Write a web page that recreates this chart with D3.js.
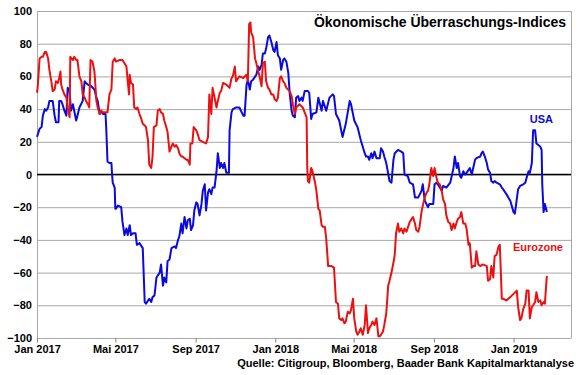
<!DOCTYPE html>
<html><head><meta charset="utf-8">
<script src="https://cdn.jsdelivr.net/npm/d3@7/dist/d3.min.js"></script>
<style>
html,body{margin:0;padding:0;background:#fff;}
text{font-family:"Liberation Sans",Arial,sans-serif;font-weight:bold;}
</style></head>
<body>
<svg id="chart" width="580" height="375"></svg>
<script>
const title = "Ökonomische Überraschungs-Indices";
const source = "Quelle: Citigroup, Bloomberg, Baader Bank Kapitalmarktanalyse";
const seriesNames = ["USA", "Eurozone"];
const yTicks = [-100, -80, -60, -40, -20, 0, 20, 40, 60, 80, 100];
const xTickDates = ["2017-01-01", "2017-05-01", "2017-09-01", "2018-01-01", "2018-05-01", "2018-09-01", "2019-01-01"];
const xTickLabels = ["Jan 2017", "Mai 2017", "Sep 2017", "Jan 2018", "Mai 2018", "Sep 2018", "Jan 2019"];
const xDomain = ["2017-01-01", "2019-03-30"];

const usaDates = ["2017-01-01","2017-01-05","2017-01-08","2017-01-10","2017-01-13","2017-01-15","2017-01-18","2017-01-20","2017-01-25","2017-01-28","2017-01-30","2017-02-03","2017-02-04","2017-02-07","2017-02-09","2017-02-12","2017-02-15","2017-02-17","2017-02-20","2017-02-22","2017-02-25","2017-02-27","2017-03-02","2017-03-04","2017-03-07","2017-03-12","2017-03-15","2017-03-17","2017-03-20","2017-03-25","2017-03-30","2017-04-02","2017-04-04","2017-04-07","2017-04-09","2017-04-12","2017-04-16","2017-04-17","2017-04-19","2017-04-22","2017-04-25","2017-04-26","2017-04-27","2017-04-30","2017-05-01","2017-05-02","2017-05-05","2017-05-10","2017-05-12","2017-05-15","2017-05-18","2017-05-20","2017-05-23","2017-05-25","2017-05-28","2017-06-01","2017-06-03","2017-06-07","2017-06-12","2017-06-15","2017-06-17","2017-06-22","2017-06-25","2017-06-27","2017-06-30","2017-07-03","2017-07-08","2017-07-10","2017-07-13","2017-07-15","2017-07-18","2017-07-20","2017-07-23","2017-07-26","2017-07-31","2017-08-02","2017-08-05","2017-08-07","2017-08-10","2017-08-12","2017-08-15","2017-08-18","2017-08-20","2017-08-23","2017-08-25","2017-08-28","2017-08-30","2017-09-02","2017-09-04","2017-09-07","2017-09-10","2017-09-12","2017-09-15","2017-09-17","2017-09-20","2017-09-22","2017-09-25","2017-09-27","2017-09-30","2017-10-03","2017-10-05","2017-10-08","2017-10-10","2017-10-13","2017-10-15","2017-10-18","2017-10-22","2017-10-23","2017-10-26","2017-10-28","2017-11-02","2017-11-07","2017-11-13","2017-11-15","2017-11-18","2017-11-20","2017-11-23","2017-11-25","2017-11-28","2017-12-03","2017-12-06","2017-12-08","2017-12-11","2017-12-13","2017-12-16","2017-12-18","2017-12-21","2017-12-23","2017-12-26","2017-12-29","2017-12-31","2018-01-03","2018-01-05","2018-01-08","2018-01-10","2018-01-13","2018-01-15","2018-01-18","2018-01-21","2018-01-23","2018-01-26","2018-01-28","2018-01-31","2018-02-02","2018-02-05","2018-02-07","2018-02-10","2018-02-12","2018-02-15","2018-02-20","2018-02-22","2018-02-25","2018-02-27","2018-03-05","2018-03-08","2018-03-13","2018-03-15","2018-03-20","2018-03-25","2018-03-30","2018-04-01","2018-04-04","2018-04-09","2018-04-14","2018-04-19","2018-04-25","2018-04-27","2018-05-02","2018-05-07","2018-05-12","2018-05-18","2018-05-20","2018-05-23","2018-05-25","2018-05-28","2018-05-30","2018-06-02","2018-06-05","2018-06-10","2018-06-12","2018-06-15","2018-06-17","2018-06-20","2018-06-25","2018-06-28","2018-07-01","2018-07-03","2018-07-08","2018-07-13","2018-07-16","2018-07-18","2018-07-23","2018-07-26","2018-07-31","2018-08-03","2018-08-08","2018-08-13","2018-08-15","2018-08-18","2018-08-23","2018-08-25","2018-08-31","2018-09-02","2018-09-05","2018-09-07","2018-09-13","2018-09-15","2018-09-20","2018-09-26","2018-10-01","2018-10-03","2018-10-06","2018-10-08","2018-10-11","2018-10-13","2018-10-16","2018-10-19","2018-10-21","2018-10-26","2018-10-29","2018-11-03","2018-11-05","2018-11-11","2018-11-13","2018-11-15","2018-11-18","2018-11-21","2018-11-23","2018-11-26","2018-11-28","2018-12-01","2018-12-03","2018-12-06","2018-12-11","2018-12-14","2018-12-16","2018-12-21","2018-12-27","2019-01-01","2019-01-03","2019-01-05","2019-01-08","2019-01-11","2019-01-16","2019-01-19","2019-01-21","2019-01-24","2019-01-26","2019-01-29","2019-01-31","2019-02-03","2019-02-05","2019-02-08","2019-02-11","2019-02-13","2019-02-14","2019-02-16","2019-02-18","2019-02-21"];
const usaValues = [23,28,29,36,40,39,41,45,45,36,32,32,45,45,43,39,36,53,51,39,43,39,33,36,41,45,57,56,55,54,52,47,45,37,39,37,37,29,8,7,7,0,-5,-8,-21,-21,-19,-20,-29,-37,-33,-37,-31,-37,-36,-36,-43,-42,-45,-78,-79,-76,-78,-75,-74,-63,-60,-55,-68,-63,-66,-53,-52,-45,-44,-45,-40,-38,-30,-36,-26,-33,-28,-27,-34,-31,-22,-17,-18,-25,-18,-10,-6,-22,-11,-9,-12,-8,-8,2,13,4,7,4,7,1,1,27,38,40,41,41,36,36,55,58,52,57,58,61,66,64,67,74,74,77,84,85,81,76,75,81,73,71,64,70,71,69,62,50,39,36,35,47,48,45,47,45,51,51,50,34,37,38,47,39,45,39,47,49,48,37,33,23,31,45,43,33,29,21,13,11,11,9,13,10,14,10,10,16,14,11,7,-4,-5,9,13,15,14,13,0,-1,-5,-6,-14,-14,-10,-6,-16,-20,-18,-18,-6,-5,-6,-10,-7,-8,-5,4,11,4,7,-1,-2,2,0,1,4,0,9,10,11,13,14,11,7,3,1,-4,-5,-4,-5,-6,-8,-9,-12,-16,-23,-24,-18,-9,-7,-6,-5,-2,2,1,7,27,27,19,18,17,15,-6,-23,-18,-23];

const euDates = ["2017-01-01","2017-01-02","2017-01-05","2017-01-08","2017-01-10","2017-01-13","2017-01-15","2017-01-18","2017-01-20","2017-01-23","2017-01-25","2017-01-28","2017-01-30","2017-02-02","2017-02-04","2017-02-06","2017-02-07","2017-02-09","2017-02-12","2017-02-15","2017-02-17","2017-02-20","2017-02-21","2017-02-25","2017-02-27","2017-03-02","2017-03-04","2017-03-07","2017-03-10","2017-03-12","2017-03-15","2017-03-17","2017-03-20","2017-03-22","2017-03-24","2017-03-27","2017-03-30","2017-04-02","2017-04-04","2017-04-07","2017-04-09","2017-04-12","2017-04-17","2017-04-19","2017-04-22","2017-04-25","2017-04-27","2017-04-30","2017-05-02","2017-05-07","2017-05-12","2017-05-15","2017-05-18","2017-05-20","2017-05-22","2017-05-23","2017-05-25","2017-05-28","2017-05-30","2017-06-02","2017-06-04","2017-06-07","2017-06-09","2017-06-12","2017-06-15","2017-06-17","2017-06-20","2017-06-22","2017-06-25","2017-06-27","2017-06-29","2017-07-03","2017-07-05","2017-07-08","2017-07-10","2017-07-13","2017-07-15","2017-07-18","2017-07-20","2017-07-23","2017-07-26","2017-07-28","2017-07-31","2017-08-02","2017-08-05","2017-08-07","2017-08-10","2017-08-12","2017-08-15","2017-08-18","2017-08-20","2017-08-23","2017-08-24","2017-08-27","2017-08-29","2017-09-02","2017-09-04","2017-09-07","2017-09-12","2017-09-17","2017-09-20","2017-09-22","2017-09-25","2017-09-27","2017-09-30","2017-10-03","2017-10-05","2017-10-08","2017-10-10","2017-10-13","2017-10-18","2017-10-23","2017-10-26","2017-10-28","2017-10-31","2017-11-02","2017-11-07","2017-11-13","2017-11-18","2017-11-20","2017-11-22","2017-11-24","2017-11-25","2017-11-28","2017-12-01","2017-12-03","2017-12-06","2017-12-08","2017-12-11","2017-12-13","2017-12-16","2017-12-18","2017-12-21","2017-12-23","2017-12-26","2017-12-29","2017-12-31","2018-01-03","2018-01-05","2018-01-08","2018-01-10","2018-01-13","2018-01-15","2018-01-18","2018-01-23","2018-01-26","2018-01-28","2018-01-31","2018-02-02","2018-02-07","2018-02-12","2018-02-15","2018-02-18","2018-02-19","2018-02-20","2018-02-22","2018-02-25","2018-02-27","2018-03-03","2018-03-05","2018-03-08","2018-03-10","2018-03-13","2018-03-15","2018-03-18","2018-03-20","2018-03-23","2018-03-28","2018-04-01","2018-04-04","2018-04-07","2018-04-09","2018-04-12","2018-04-14","2018-04-17","2018-04-19","2018-04-22","2018-04-25","2018-04-27","2018-04-30","2018-05-02","2018-05-05","2018-05-07","2018-05-10","2018-05-12","2018-05-15","2018-05-18","2018-05-20","2018-05-23","2018-05-25","2018-05-28","2018-05-30","2018-06-02","2018-06-05","2018-06-08","2018-06-10","2018-06-12","2018-06-15","2018-06-17","2018-06-20","2018-06-23","2018-06-25","2018-06-28","2018-07-01","2018-07-03","2018-07-05","2018-07-08","2018-07-10","2018-07-13","2018-07-16","2018-07-18","2018-07-21","2018-07-26","2018-07-29","2018-07-31","2018-08-03","2018-08-05","2018-08-08","2018-08-10","2018-08-13","2018-08-15","2018-08-18","2018-08-21","2018-08-23","2018-08-25","2018-08-28","2018-08-31","2018-09-02","2018-09-05","2018-09-07","2018-09-10","2018-09-13","2018-09-15","2018-09-18","2018-09-20","2018-09-23","2018-09-26","2018-09-28","2018-10-01","2018-10-03","2018-10-06","2018-10-08","2018-10-11","2018-10-13","2018-10-16","2018-10-19","2018-10-21","2018-10-24","2018-10-26","2018-10-29","2018-10-31","2018-11-03","2018-11-05","2018-11-08","2018-11-11","2018-11-15","2018-11-21","2018-11-23","2018-11-26","2018-11-28","2018-12-01","2018-12-03","2018-12-06","2018-12-09","2018-12-11","2018-12-14","2018-12-16","2018-12-21","2018-12-27","2019-01-01","2019-01-06","2019-01-08","2019-01-11","2019-01-13","2019-01-16","2019-01-19","2019-01-21","2019-01-24","2019-01-26","2019-01-29","2019-01-31","2019-02-03","2019-02-05","2019-02-08","2019-02-11","2019-02-13","2019-02-16","2019-02-18","2019-02-21"];
const euValues = [50,53,71,72,72,75,75,71,64,57,51,52,57,56,59,63,55,52,49,47,41,35,72,70,72,70,70,60,57,49,47,45,43,41,70,69,63,45,41,37,39,38,38,38,49,52,69,71,69,70,70,68,66,57,49,61,56,55,41,40,41,37,35,31,30,29,21,6,4,11,29,30,39,40,38,37,33,29,26,14,17,19,17,18,16,13,11,11,10,9,9,6,19,19,29,27,25,21,20,19,23,49,37,53,47,41,45,50,51,56,55,53,59,60,66,57,60,59,61,57,92,93,87,84,71,68,63,60,54,68,69,57,53,52,49,49,46,45,47,59,60,57,56,53,51,48,43,37,41,43,41,38,35,4,-4,-5,4,2,-5,-10,-21,-22,-31,-32,-32,-39,-56,-56,-57,-78,-79,-88,-89,-88,-91,-90,-84,-85,-83,-76,-88,-96,-98,-96,-94,-98,-92,-80,-97,-94,-92,-90,-92,-88,-99,-99,-98,-96,-92,-85,-68,-65,-60,-54,-49,-36,-30,-35,-33,-36,-33,-35,-29,-27,-26,-30,-34,-35,-32,-23,-19,-14,-11,-10,-6,4,-1,4,-2,-5,-6,-10,-15,-18,-25,-29,-30,-34,-30,-33,-29,-27,-26,-23,-30,-30,-33,-43,-42,-57,-56,-56,-47,-55,-56,-55,-56,-65,-64,-56,-63,-50,-49,-44,-43,-76,-76,-77,-75,-73,-71,-81,-89,-88,-82,-79,-71,-71,-88,-81,-80,-78,-72,-78,-77,-80,-78,-79,-62];

const colors = {usa: "#0a0ae0", eu: "#ec1010", grid: "#a8a8a8"};

const svg = d3.select("#chart");
const parse = d3.utcParse("%Y-%m-%d");
const L = 37, R = 571, T = 11, B = 338;
const x = d3.scaleUtc().domain(xDomain.map(parse)).range([L, R]);
const y = d3.scaleLinear().domain([-100, 100]).range([B, T]);

// grid lines
svg.append("g").selectAll("line").data(yTicks).join("line")
  .attr("x1", L).attr("x2", R)
  .attr("y1", d => y(d) + 0.5).attr("y2", d => y(d) + 0.5)
  .attr("stroke", colors.grid).attr("stroke-width", 1);
// left and right frame
svg.append("line").attr("x1", L + 0.5).attr("x2", L + 0.5).attr("y1", T).attr("y2", B + 0.5)
  .attr("stroke", colors.grid);
svg.append("line").attr("x1", R + 0.5).attr("x2", R + 0.5).attr("y1", T).attr("y2", B + 0.5)
  .attr("stroke", colors.grid);

// y labels
const yAxis = d3.axisLeft(y).tickValues(yTicks).tickSize(0).tickPadding(5);
const gy = svg.append("g").attr("transform", `translate(${L},0)`).call(yAxis);
gy.select(".domain").remove();
gy.selectAll("text").attr("font-size", 11).attr("fill", "#000")
  .style("font-family", '"Liberation Sans",Arial,sans-serif').style("font-weight", "bold");

// x axis
const xAxis = d3.axisBottom(x).tickValues(xTickDates.map(parse))
  .tickFormat((d, i) => xTickLabels[i]).tickSize(4).tickPadding(3);
const gx = svg.append("g").attr("transform", `translate(0,${B + 0.5})`).call(xAxis);
gx.select(".domain").remove();
gx.selectAll("line").attr("stroke", "#808080");
gx.selectAll("text").attr("font-size", 11).attr("fill", "#000")
  .style("font-family", '"Liberation Sans",Arial,sans-serif').style("font-weight", "bold");

// zero line
svg.append("line").attr("x1", L).attr("x2", R).attr("y1", y(0)).attr("y2", y(0))
  .attr("stroke", "#000").attr("stroke-width", 1.6);

const line = d3.line().x(d => x(d[0])).y(d => y(d[1]));
const usa = usaDates.map((d, i) => [parse(d), usaValues[i]]);
const eu = euDates.map((d, i) => [parse(d), euValues[i]]);

svg.append("path").datum(usa).attr("d", line).attr("fill", "none")
  .attr("stroke", colors.usa).attr("stroke-width", 2).attr("stroke-linejoin", "round");
svg.append("path").datum(eu).attr("d", line).attr("fill", "none")
  .attr("stroke", colors.eu).attr("stroke-width", 2).attr("stroke-linejoin", "round");

// title
svg.append("text").attr("x", 566).attr("y", 27).attr("text-anchor", "end")
  .attr("font-size", 14).attr("fill", "#000").text(title);
// series labels
svg.append("text").attr("x", 553).attr("y", 123).attr("text-anchor", "end")
  .attr("font-size", 11).attr("fill", colors.usa).text(seriesNames[0]);
svg.append("text").attr("x", 563).attr("y", 251).attr("text-anchor", "end")
  .attr("font-size", 11).attr("fill", colors.eu).text(seriesNames[1]);
// source
svg.append("text").attr("x", 574).attr("y", 367).attr("text-anchor", "end")
  .attr("font-size", 11).attr("fill", "#000").text(source);
</script>
</body></html>
